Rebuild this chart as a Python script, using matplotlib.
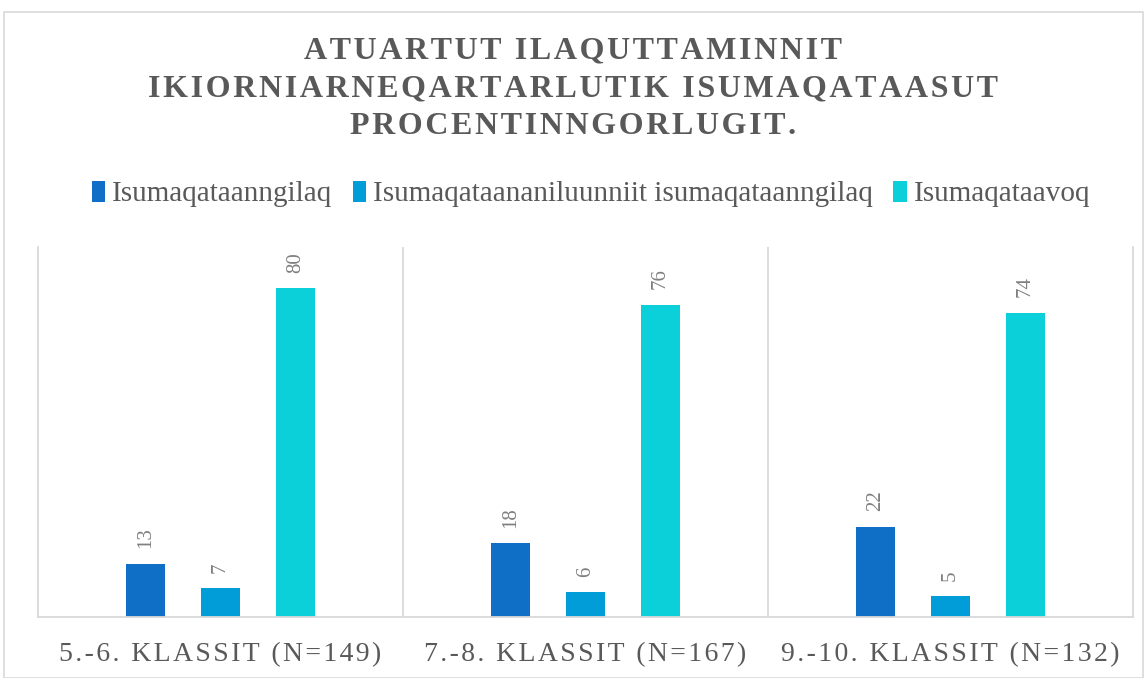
import matplotlib

matplotlib.use("Agg")
import matplotlib.pyplot as plt
from matplotlib.patches import Rectangle
import numpy as np

categories = ["5.-6. KLASSIT (N=149)", "7.-8. KLASSIT (N=167)", "9.-10. KLASSIT (N=132)"]
series_names = [
    "Isumaqataanngilaq",
    "Isumaqataananiluunniit isumaqataanngilaq",
    "Isumaqataavoq",
]
disagree = [13, 18, 22]
neutral = [7, 6, 5]
agree = [80, 76, 74]
colors = ["#0F6FC6", "#009DD9", "#0BD0D9"]
title_lines = [
    "ATUARTUT ILAQUTTAMINNIT",
    "IKIORNIARNEQARTARLUTIK ISUMAQATAASUT",
    "PROCENTINNGORLUGIT.",
]

SERIF = ["Liberation Serif", "DejaVu Serif"]
GRAY = "#595959"
LINE = "#D9D9D9"


def spaced(s, gap="\u200a"):
    return gap.join(s)


fig = plt.figure(figsize=(11.47, 6.78), dpi=100)
fig.patches.append(Rectangle((4 / 1147, 0.0), 1139 / 1147, 1 - 12 / 678,
                             transform=fig.transFigure, fill=False,
                             edgecolor=LINE, linewidth=1.2))

ax = fig.add_axes([38 / 1147, 1 - 617 / 678, (1133 - 38) / 1147, (617 - 247) / 678])

x = np.arange(len(categories))
offsets = [-0.205, 0.0, 0.205]
width = 0.107
for vals, off, col, name in zip([disagree, neutral, agree], offsets, colors, series_names):
    bars = ax.bar(x + off, vals, width, color=col, label=name)
    for b, v in zip(bars, vals):
        ax.annotate(str(v), (b.get_x() + b.get_width() / 2, b.get_height()),
                    xytext=(0, 11), textcoords="offset points", rotation=90,
                    ha="center", va="bottom", fontsize=15, color="#7F7F7F",
                    family=SERIF)

ax.set_xlim(-0.5, len(categories) - 0.5)
ax.set_ylim(0, 90)
ax.set_yticks([])
ax.set_xticks(x)
ax.set_xticklabels([spaced(c) for c in categories], family=SERIF,
                   fontsize=20, color=GRAY)
ax.tick_params(axis="x", length=0, pad=18)
for sep in np.arange(0.5, len(categories) - 0.5):
    ax.axvline(sep, color=LINE, linewidth=1.3)
for side in ["left", "right", "bottom"]:
    ax.spines[side].set_color(LINE)
    ax.spines[side].set_linewidth(1.3)
ax.spines["top"].set_visible(False)

for i, line in enumerate(title_lines):
    fig.text(0.5, 1 - (51 + 37.5 * i) / 678, spaced(line), ha="center", va="center",
             fontsize=23, fontweight="bold", color=GRAY, family=SERIF)

fig.legend(loc="center", bbox_to_anchor=(591 / 1147, 1 - 194 / 678), ncol=3,
           frameon=False, prop={"family": SERIF, "size": 21},
           labelcolor=GRAY, handlelength=0.45, handleheight=0.75,
           handletextpad=0.25, columnspacing=0.7)

fig.savefig("out.png", dpi=100)
